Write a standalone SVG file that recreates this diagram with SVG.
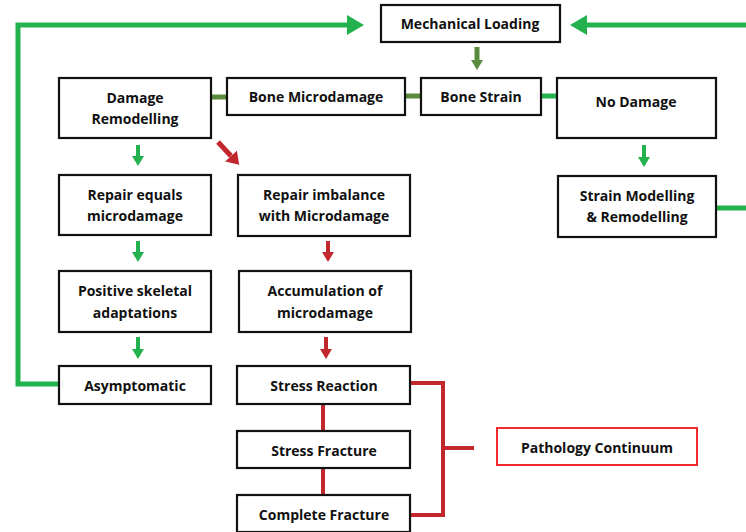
<svg xmlns="http://www.w3.org/2000/svg" width="746" height="532" viewBox="0 0 746 532">
<style>
.box{fill:#fff;stroke:#111;stroke-width:2.2}
.pbox{fill:#fff;stroke:#ee2b2f;stroke-width:2}
text{font-family:"Open Sans","Liberation Sans",sans-serif;font-weight:bold;font-size:14px;fill:#111;text-anchor:middle;dominant-baseline:central}
.g{stroke:#22b14c;fill:none}
.o{stroke:#5a8a3c;fill:none}
.r{stroke:#c1272d;fill:none}
</style>
<defs>
<marker id="hg" markerUnits="userSpaceOnUse" markerWidth="12" markerHeight="12" refX="0" refY="6" orient="auto"><path d="M0,0 L10,6 L0,12 z" fill="#22b14c"/></marker>
<marker id="ho" markerUnits="userSpaceOnUse" markerWidth="12" markerHeight="12" refX="0" refY="6" orient="auto"><path d="M0,0 L10,6 L0,12 z" fill="#5a8a3c"/></marker>
<marker id="hr" markerUnits="userSpaceOnUse" markerWidth="12" markerHeight="12" refX="0" refY="6" orient="auto"><path d="M0,0 L10,6 L0,12 z" fill="#c1272d"/></marker>
<marker id="hrb" markerUnits="userSpaceOnUse" markerWidth="14" markerHeight="16" refX="0" refY="8" orient="auto"><path d="M0,0 L12,8 L0,16 z" fill="#c1272d"/></marker>
<marker id="hbig" markerUnits="userSpaceOnUse" markerWidth="18" markerHeight="20" refX="0" refY="10" orient="auto"><path d="M0,0 L17,10 L0,20 z" fill="#22b14c"/></marker>
</defs>
<g id="connectors">
<polyline class="g" stroke-width="5" points="59,384 18,384 18,25 347,25" marker-end="url(#hbig)"/>
<line class="g" stroke-width="5" x1="746" y1="25" x2="587" y2="25" marker-end="url(#hbig)"/>
<line class="g" stroke-width="5" x1="716" y1="208" x2="746" y2="208"/>
<line class="o" stroke-width="5" x1="477" y1="47" x2="477" y2="60" marker-end="url(#ho)"/>
<line class="o" stroke-width="5" x1="211" y1="97" x2="227" y2="97"/>
<line class="o" stroke-width="5" x1="405" y1="96" x2="421" y2="96"/>
<line class="g" stroke-width="5" x1="541" y1="96" x2="557" y2="96"/>
<line class="g" stroke-width="4" x1="644" y1="145" x2="644" y2="157" marker-end="url(#hg)"/>
<line class="g" stroke-width="4" x1="138" y1="145" x2="138" y2="156" marker-end="url(#hg)"/>
<line class="r" stroke-width="5" x1="218" y1="142" x2="231" y2="156" marker-end="url(#hrb)"/>
<line class="g" stroke-width="4" x1="138" y1="241" x2="138" y2="252" marker-end="url(#hg)"/>
<line class="r" stroke-width="4" x1="328" y1="241" x2="328" y2="252" marker-end="url(#hr)"/>
<line class="g" stroke-width="4" x1="138" y1="337" x2="138" y2="349" marker-end="url(#hg)"/>
<line class="r" stroke-width="4" x1="326" y1="337" x2="326" y2="349" marker-end="url(#hr)"/>
<line class="r" stroke-width="4" x1="323" y1="404" x2="323" y2="431"/>
<line class="r" stroke-width="4" x1="323" y1="468" x2="323" y2="495"/>
<polyline class="r" stroke-width="4" points="410,383 443,383 443,515 410,515"/>
<line class="r" stroke-width="4" x1="443" y1="448" x2="474" y2="448"/>
</g>
<g id="mechanical-loading"><rect class="box" x="381" y="5" width="179" height="37"/><text x="470" y="23">Mechanical Loading</text></g>
<g id="damage-remodelling"><rect class="box" x="59" y="78" width="152" height="60"/><text x="135" y="97">Damage</text><text x="135" y="118">Remodelling</text></g>
<g id="bone-microdamage"><rect class="box" x="227" y="78" width="178" height="37"/><text x="316" y="96">Bone Microdamage</text></g>
<g id="bone-strain"><rect class="box" x="421" y="78" width="120" height="37"/><text x="481" y="96">Bone Strain</text></g>
<g id="no-damage"><rect class="box" x="557" y="78" width="159" height="60"/><text x="636" y="101">No Damage</text></g>
<g id="strain-modelling"><rect class="box" x="558" y="176" width="158" height="61"/><text x="637" y="195">Strain Modelling</text><text x="637" y="216">&amp; Remodelling</text></g>
<g id="repair-equals"><rect class="box" x="59" y="175" width="152" height="60"/><text x="135" y="194">Repair equals</text><text x="135" y="215">microdamage</text></g>
<g id="repair-imbalance"><rect class="box" x="238" y="175" width="172" height="61"/><text x="324" y="194">Repair imbalance</text><text x="324" y="215">with Microdamage</text></g>
<g id="positive-skeletal"><rect class="box" x="59" y="271" width="152" height="61"/><text x="135" y="290">Positive skeletal</text><text x="135" y="312">adaptations</text></g>
<g id="accumulation"><rect class="box" x="239" y="271" width="172" height="61"/><text x="325" y="290">Accumulation of</text><text x="325" y="312">microdamage</text></g>
<g id="asymptomatic"><rect class="box" x="59" y="366" width="152" height="38"/><text x="135" y="385">Asymptomatic</text></g>
<g id="stress-reaction"><rect class="box" x="237" y="366" width="173" height="38"/><text x="324" y="385">Stress Reaction</text></g>
<g id="stress-fracture"><rect class="box" x="237" y="431" width="173" height="37"/><text x="324" y="450">Stress Fracture</text></g>
<g id="complete-fracture"><rect class="box" x="237" y="495" width="173" height="37"/><text x="324" y="514">Complete Fracture</text></g>
<g id="pathology-continuum"><rect class="pbox" x="497" y="428" width="200" height="37"/><text x="597" y="447">Pathology Continuum</text></g>
</svg>
